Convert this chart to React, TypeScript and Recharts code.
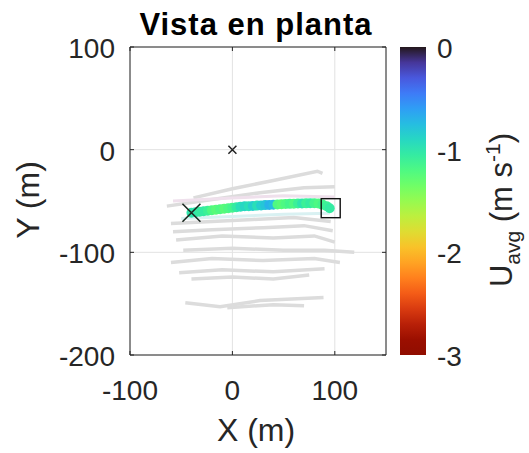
import {
  ComposedChart,
  BarChart,
  Bar,
  Line,
  Scatter,
  XAxis,
  YAxis,
  CartesianGrid,
} from "recharts";

// layout of the figure (page pixels)
const W = 529;
const H = 453;
const PLOT_LEFT = 130;
const PLOT_TOP = 47;
const PLOT_RIGHT = 386;
const PLOT_BOTTOM = 355;
const CB_LEFT = 400;
const INK = "#262626";
const FONT = '"Liberation Sans", Arial, Helvetica, sans-serif';

const xDomain = [-100, 150];
const yDomain = [-200, 100];
const xTicks = [-100, 0, 100];
const yTicks = [-200, -100, 0, 100];
const cbTicks = [-3, -2, -1, 0];

// coloured track: position (m) and U_avg (m s-1)
const trackX = [-40, -36, -32, -28, -24, -20, -16, -12, -8, -4, 0, 4, 8, 12, 16, 20, 24, 28, 32, 36, 40, 44, 48, 52, 56, 60, 64, 68, 72, 76, 80, 84, 88, 92, 95];
const trackY = [-61.5, -61, -60.5, -60, -59.5, -59, -58.5, -58, -57.5, -57, -56.5, -56, -55.5, -55.2, -55, -54.8, -54.5, -54.3, -54, -53.8, -53.6, -53.4, -53.2, -53, -52.8, -52.7, -52.5, -52.4, -52.3, -52.2, -52.2, -52.5, -53.5, -55, -57];
const trackU = [-1.0, -1.0, -1.05, -1.05, -1.1, -1.2, -1.25, -1.2, -1.25, -1.2, -1.15, -1.05, -0.95, -0.9, -0.95, -0.85, -0.95, -0.85, -0.8, -0.7, -0.75, -1.2, -1.25, -1.2, -1.15, -1.2, -1.1, -1.0, -1.1, -1.05, -1.15, -1.2, -1.15, -1.1, -1.05];

// other drifter tracks (grey)
const grey1 = [[-38, -47], [0, -38], [40, -30], [83, -21], [88, -23]];
const grey2 = [[-64, -55], [-30, -50], [27, -42], [70, -37], [100, -36]];
const grey3 = [[-60, -72], [-20, -70], [20, -68], [60, -66], [96, -70]];
const grey4 = [[-58, -80], [-20, -78], [30, -76], [70, -74], [98, -79]];
const grey5 = [[-55, -88], [-10, -84], [40, -86], [80, -84], [100, -90]];
const grey6 = [[-48, -98], [0, -96], [50, -98], [90, -98], [119, -100]];
const grey7 = [[-60, -110], [-20, -106], [30, -108], [80, -106], [105, -110]];
const grey8 = [[-52, -120], [-10, -117], [40, -119], [90, -116]];
const grey9 = [[-40, -126], [0, -124], [40, -126], [75, -122]];
const grey10 = [[-46, -149], [-12, -153], [27, -147], [89, -144]];
const grey11 = [[-5, -154], [40, -151], [70, -152]];
const paleA = [[-58, -50], [0, -47], [50, -45], [100, -46]];
const paleB = [[-50, -67], [0, -65], [50, -63], [95, -62]];

const startPt = [{ x: -40, y: -61.5 }];
const endPt = [{ x: 96, y: -57 }];
const originPt = [{ x: 0, y: 0 }];

const cbData = [{ name: "U", v: -3 }];

const toPts = (arr: number[][]) => arr.map(([x, y]) => ({ x, y }));
const greyTracks = [grey1, grey2, grey3, grey4, grey5, grey6, grey7, grey8, grey9, grey10, grey11].map(toPts);
const trackPts = trackX.map((x, i) => ({ x, y: trackY[i], u: trackU[i] }));

// turbo colormap (polynomial approximation)
function turbo(t: number) {
  t = Math.max(0, Math.min(1, t));
  const r = 0.13572138 + t * (4.6153926 + t * (-42.66032258 + t * (132.13108234 + t * (-152.94239396 + t * 59.28637943))));
  const g = 0.09140261 + t * (2.19418839 + t * (4.84296658 + t * (-14.18503333 + t * (4.27729857 + t * 2.82956604))));
  const b = 0.1066733 + t * (12.64194608 + t * (-60.58204836 + t * (110.36276771 + t * (-89.90310912 + t * 27.34824973))));
  const c = (v: number) => Math.round(Math.max(0, Math.min(1, v)) * 255);
  return `rgb(${c(r)},${c(g)},${c(b)})`;
}
const uColor = (u: number) => turbo(-u / 3);

// tick label + inward tick marks; the first tick also draws the opposite box edge
const BottomTick = ({ x, y, index, payload }: any) => (
  <g>
    {index === 0 && <line x1={PLOT_LEFT} y1={PLOT_TOP} x2={PLOT_RIGHT} y2={PLOT_TOP} stroke={INK} />}
    <line x1={x} y1={y} x2={x} y2={y - 4} stroke={INK} />
    <line x1={x} y1={PLOT_TOP} x2={x} y2={PLOT_TOP + 4} stroke={INK} />
    <text x={x} y={y + 45} textAnchor="middle" fontSize={28} fill={INK} fontFamily={FONT}>
      {payload.value}
    </text>
  </g>
);
const LeftTick = ({ x, y, index, payload }: any) => (
  <g>
    {index === 0 && <line x1={PLOT_RIGHT} y1={PLOT_TOP} x2={PLOT_RIGHT} y2={PLOT_BOTTOM} stroke={INK} />}
    <line x1={x} y1={y} x2={x + 4} y2={y} stroke={INK} />
    <line x1={PLOT_RIGHT} y1={y} x2={PLOT_RIGHT - 4} y2={y} stroke={INK} />
    <text x={x - 15} y={y + 11} textAnchor="end" fontSize={28} fill={INK} fontFamily={FONT}>
      {payload.value}
    </text>
  </g>
);
const CbTick = ({ x, y, payload }: any) => (
  <text x={x + 11} y={y + 11} textAnchor="start" fontSize={28} fill={INK} fontFamily={FONT}>
    {payload.value}
  </text>
);

export default function App() {
  return (
    <div style={{ position: "absolute", left: 0, top: 0, width: W, height: H, background: "#fff" }}>
      <div
        style={{
          position: "absolute",
          left: 0,
          width: 512,
          top: 9,
          textAlign: "center",
          fontFamily: FONT,
          fontWeight: "bold",
          fontSize: 31,
          letterSpacing: 1,
          lineHeight: "31px",
          color: "#000",
        }}
      >
        Vista en planta
      </div>
      <div style={{ position: "absolute", left: 0, top: 0 }}>
        <ComposedChart width={W} height={H} margin={{ top: PLOT_TOP, right: W - PLOT_RIGHT, bottom: 0, left: 0 }}>
          <CartesianGrid stroke="#e2e2e2" />
          <XAxis
            dataKey="x"
            type="number"
            domain={xDomain}
            ticks={xTicks}
            height={H - PLOT_BOTTOM}
            tickSize={0}
            tickMargin={0}
            tick={<BottomTick />}
            axisLine={{ stroke: INK }}
            label={{
              content: () => (
                <text x={256} y={441} textAnchor="middle" fontSize={32} fill={INK} fontFamily={FONT}>
                  X (m)
                </text>
              ),
            }}
          />
          <YAxis
            dataKey="y"
            type="number"
            domain={yDomain}
            ticks={yTicks}
            width={PLOT_LEFT}
            tickSize={0}
            tickMargin={0}
            tick={<LeftTick />}
            axisLine={{ stroke: INK }}
            label={{
              content: () => (
                <text x={39} y={200} transform="rotate(-90 39 200)" textAnchor="middle" fontSize={32} fill={INK} fontFamily={FONT}>
                  Y (m)
                </text>
              ),
            }}
          />

          {greyTracks.map((pts, i) => (
            <Line
              key={i}
              data={pts}
              dataKey="y"
              type="linear"
              stroke="#dcdcdc"
              strokeWidth={3.5}
              dot={false}
              activeDot={false}
              isAnimationActive={false}
            />
          ))}
          <Line data={toPts(paleA)} dataKey="y" stroke="#efe0ec" strokeWidth={3} dot={false} isAnimationActive={false} />
          <Line data={toPts(paleB)} dataKey="y" stroke="#d9f1f2" strokeWidth={3} dot={false} isAnimationActive={false} />

          <Scatter
            data={trackPts}
            isAnimationActive={false}
            shape={(p: any) => <circle cx={p.cx} cy={p.cy} r={5} fill={uColor(p.payload.u)} />}
          />
          <Scatter
            data={originPt}
            isAnimationActive={false}
            shape={(p: any) => (
              <path
                d={`M${p.cx - 4},${p.cy - 4}L${p.cx + 4},${p.cy + 4}M${p.cx - 4},${p.cy + 4}L${p.cx + 4},${p.cy - 4}`}
                stroke="#222"
                strokeWidth={1.5}
              />
            )}
          />
          <Scatter
            data={startPt}
            isAnimationActive={false}
            shape={(p: any) => (
              <path
                d={`M${p.cx - 9},${p.cy - 9}L${p.cx + 9},${p.cy + 9}M${p.cx - 9},${p.cy + 9}L${p.cx + 9},${p.cy - 9}`}
                stroke="#1d2a22"
                strokeWidth={1.6}
              />
            )}
          />
          <Scatter
            data={endPt}
            isAnimationActive={false}
            shape={(p: any) => (
              <rect x={p.cx - 9.5} y={p.cy - 9.5} width={19} height={19} fill="none" stroke="#111" strokeWidth={1.4} />
            )}
          />
        </ComposedChart>
      </div>

      <div style={{ position: "absolute", left: CB_LEFT, top: 0 }}>
        <BarChart
          width={W - CB_LEFT}
          height={H}
          data={cbData}
          margin={{ top: PLOT_TOP, right: 0, bottom: H - PLOT_BOTTOM, left: 0 }}
          barCategoryGap={0}
        >
          <defs>
            <linearGradient id="turboGrad" x1="0" y1="0" x2="0" y2="1">
              {Array.from({ length: 21 }, (_, i) => (
                <stop key={i} offset={`${i * 5}%`} stopColor={turbo(i / 20)} />
              ))}
            </linearGradient>
          </defs>
          <XAxis dataKey="name" hide />
          <YAxis
            orientation="right"
            type="number"
            domain={[-3, 0]}
            ticks={cbTicks}
            width={103}
            tickSize={0}
            tickMargin={0}
            axisLine={false}
            tick={<CbTick />}
            label={{
              content: () => (
                <text x={112} y={210} transform="rotate(-90 112 210)" textAnchor="middle" fontSize={31} fill={INK} fontFamily={FONT}>
                  U
                  <tspan fontSize={21} dy={8}>avg</tspan>
                  <tspan dy={-8}> (m s</tspan>
                  <tspan fontSize={21} dy={-12}>-1</tspan>
                  <tspan dy={12}>)</tspan>
                </text>
              ),
            }}
          />
          <Bar dataKey="v" fill="url(#turboGrad)" isAnimationActive={false} />
        </BarChart>
      </div>
    </div>
  );
}
